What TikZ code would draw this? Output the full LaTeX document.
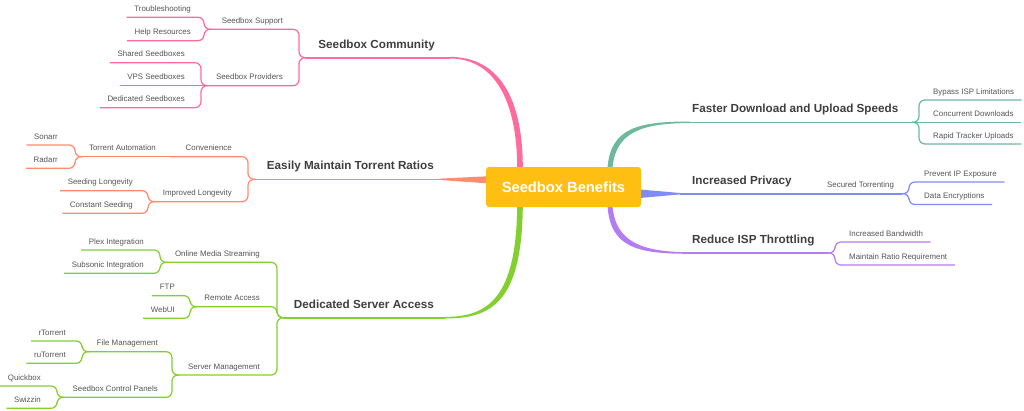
\documentclass[tikz,border=0pt]{standalone}
\usepackage{fontspec}
\setmainfont{Liberation Sans}
\definecolor{hubcol}{HTML}{FFBF12}
\definecolor{pk}{HTML}{FF6B9B}
\definecolor{sa}{HTML}{FF8C72}
\definecolor{gr}{HTML}{82D02E}
\definecolor{te}{HTML}{6CB99C}
\definecolor{bl}{HTML}{7E8CF4}
\definecolor{pu}{HTML}{B47CF4}
\definecolor{leafgray}{HTML}{555555}
\definecolor{topicgray}{HTML}{3F3F3F}

\begin{document}
\begin{tikzpicture}[x=1pt,y=-1pt,
    every node/.style={inner sep=0pt},
    hub/.style={fill=hubcol,rounded corners=3pt,minimum width=155pt,minimum height=40pt,
      text=white,font=\fontsize{14.7}{17}\selectfont\bfseries},
    topic/.style={font=\fontsize{11.7}{14}\selectfont\bfseries,text=topicgray,text depth=9.3pt},
    sub/.style={font=\fontsize{7.9}{9.5}\selectfont,text=leafgray,text depth=5.7pt},
    branch/.style={line width=1.2pt,rounded corners=6pt},
    trunk/.style={line width=1.6pt}]

  \fill[white] (0,0) rectangle (1024,410);
  \useasboundingbox (0,0) rectangle (1024,410);

  % Seedbox Community
  \node[topic,anchor=south east] (comm) at (435,57.7) {Seedbox Community};
  \node[sub,anchor=south east] (sup) at (283,29.3) {Seedbox Support};
  \node[sub,anchor=south east] (prov) at (283,85.7) {Seedbox Providers};
  \node[sub,anchor=south east] (tshoot) at (191,17.3) {Troubleshooting};
  \node[sub,anchor=south east] (helpres) at (191,40.7) {Help Resources};
  \node[sub,anchor=south east] (shared) at (185,62.7) {Shared Seedboxes};
  \node[sub,anchor=south east] (vps) at (185,85.7) {VPS Seedboxes};
  \node[sub,anchor=south east] (dedic) at (185,107.7) {Dedicated Seedboxes};
  \coordinate (comm-t) at (450,57.7);
  \coordinate (comm-f) at (306,57.7);
  \coordinate (sup-f) at (211,29.3);
  \coordinate (prov-f) at (208,85.7);
  \fill[pk] (450,56.9) .. controls (499,56.9) and (522.8,98) .. (522.8,168)
    -- (517.2,168) .. controls (517.2,102) and (495,58.5) .. (450,58.5) -- cycle;
  \draw[trunk,pk] (comm-t) -- (comm-f);
  \foreach \c in {sup-f,prov-f}
    \draw[branch,pk] (comm-f) -- ++(-7,0) |- (\c);
  \foreach \c in {tshoot,helpres}
    \draw[branch,pk] (sup-f) -- ++(-7,0) |- ([xshift=-7.5pt]\c.south west);
  \foreach \c in {shared,dedic}
    \draw[branch,pk] (prov-f) -- ++(-7,0) |- ([xshift=-7.5pt]\c.south west);
  \draw[branch,pk] (prov-f) -- ([xshift=-7.5pt]vps.south west);

  % Easily Maintain Torrent Ratios
  \node[topic,anchor=south east] (easy) at (434,179.3) {Easily Maintain Torrent Ratios};
  \node[sub,anchor=south east] (conv) at (232,156.7) {Convenience};
  \node[sub,anchor=south east] (impr) at (232,201.7) {Improved Longevity};
  \node[sub,anchor=south east] (tauto) at (156,156.7) {Torrent Automation};
  \node[sub,anchor=south east] (sonarr) at (58,145) {Sonarr};
  \node[sub,anchor=south east] (radarr) at (58,168.3) {Radarr};
  \node[sub,anchor=south east] (seedlong) at (133,190.7) {Seeding Longevity};
  \node[sub,anchor=south east] (constseed) at (133,213.3) {Constant Seeding};
  \coordinate (easy-t) at (440,179.3);
  \coordinate (easy-f) at (255,179.3);
  \coordinate (conv-f) at (170,156.7);
  \coordinate (tauto-f) at (82,156.7);
  \coordinate (impr-f) at (155,201.7);
  \fill[sa] (487,176.3) -- (440,178.6) -- (440,180) -- (487,183.3) -- cycle;
  \draw[trunk,sa] (easy-t) -- (easy-f);
  \foreach \c in {conv-f,impr-f}
    \draw[branch,sa] (easy-f) -- ++(-7,0) |- (\c);
  \draw[branch,sa] (conv-f) -- (tauto-f);
  \foreach \c in {sonarr,radarr}
    \draw[branch,sa] (tauto-f) -- ++(-7,0) |- ([xshift=-7.5pt]\c.south west);
  \foreach \c in {seedlong,constseed}
    \draw[branch,sa] (impr-f) -- ++(-7,0) |- ([xshift=-7.5pt]\c.south west);

  % Dedicated Server Access
  \node[topic,anchor=south east] (ded) at (434,317.7) {Dedicated Server Access};
  \node[sub,anchor=south east] (online) at (260,262.3) {Online Media Streaming};
  \node[sub,anchor=south east] (remote) at (260,306.7) {Remote Access};
  \node[sub,anchor=south east] (server) at (260,375) {Server Management};
  \node[sub,anchor=south east] (plex) at (144,250) {Plex Integration};
  \node[sub,anchor=south east] (subsonic) at (144,273.3) {Subsonic Integration};
  \node[sub,anchor=south east] (ftp) at (175,295.7) {FTP};
  \node[sub,anchor=south east] (webui) at (175,318.3) {WebUI};
  \node[sub,anchor=south east] (filem) at (158,351.7) {File Management};
  \node[sub,anchor=south east] (control) at (158,397.3) {Seedbox Control Panels};
  \node[sub,anchor=south east] (rtorrent) at (66,341) {rTorrent};
  \node[sub,anchor=south east] (rutorrent) at (66,363.3) {ruTorrent};
  \node[sub,anchor=south east] (quickbox) at (41,386) {Quickbox};
  \node[sub,anchor=south east] (swizzin) at (41,408.3) {Swizzin};
  \coordinate (ded-t) at (445,317.7);
  \coordinate (ded-f) at (284,317.7);
  \coordinate (online-f) at (167,262.3);
  \coordinate (remote-f) at (197,306.7);
  \coordinate (server-f) at (179,375);
  \coordinate (filem-f) at (89,351.7);
  \coordinate (control-f) at (64,397.3);
  \fill[gr] (517.2,206) -- (522.8,206) .. controls (521.8,302) and (492,318.5) .. (445,318.5)
    -- (445,316.9) .. controls (488,316.9) and (516.2,298) .. (517.2,206) -- cycle;
  \draw[trunk,gr] (ded-t) -- (ded-f);
  \foreach \c in {online-f,remote-f,server-f}
    \draw[branch,gr] (ded-f) -- ++(-7,0) |- (\c);
  \foreach \c in {plex,subsonic}
    \draw[branch,gr] (online-f) -- ++(-7,0) |- ([xshift=-7.5pt]\c.south west);
  \foreach \c in {ftp,webui}
    \draw[branch,gr] (remote-f) -- ++(-7,0) |- ([xshift=-7.5pt]\c.south west);
  \foreach \c in {filem-f,control-f}
    \draw[branch,gr] (server-f) -- ++(-7,0) |- (\c);
  \foreach \c in {rtorrent,rutorrent}
    \draw[branch,gr] (filem-f) -- ++(-7,0) |- ([xshift=-7.5pt]\c.south west);
  \foreach \c in {quickbox,swizzin}
    \draw[branch,gr] (control-f) -- ++(-7,0) |- ([xshift=-7.5pt]\c.south west);

  % Faster Download and Upload Speeds
  \node[topic,anchor=south west] (fast) at (692,122.3) {Faster Download and Upload Speeds};
  \node[sub,anchor=south west] (bypass) at (933,100) {Bypass ISP Limitations};
  \node[sub,anchor=south west] (concur) at (933,122.3) {Concurrent Downloads};
  \node[sub,anchor=south west] (rapid) at (933,144) {Rapid Tracker Uploads};
  \coordinate (fast-t) at (690,122.3);
  \coordinate (fast-f) at (912,122.3);
  \fill[te] (607.5,168) .. controls (610.5,128) and (638,121.5) .. (690,121.5)
    -- (690,123.1) .. controls (642,123.1) and (615.5,132) .. (612.5,168) -- cycle;
  \draw[trunk,te] (fast-t) -- (fast-f);
  \foreach \c in {bypass,rapid}
    \draw[branch,te] (fast-f) -- ++(7,0) |- ([xshift=7.5pt]\c.south east);
  \draw[branch,te] (fast-f) -- ([xshift=7.5pt]concur.south east);

  % Increased Privacy
  \node[topic,anchor=south west] (priv) at (692,193.7) {Increased Privacy};
  \node[sub,anchor=south west] (sect) at (827,193.7) {Secured Torrenting};
  \node[sub,anchor=south west] (prevent) at (924,182) {Prevent IP Exposure};
  \node[sub,anchor=south west] (dataenc) at (924,204.5) {Data Encryptions};
  \coordinate (priv-t) at (680,193.7);
  \coordinate (sect-f) at (902,193.7);
  \fill[bl] (640,189.5) -- (680,193) -- (680,194.4) -- (640,198) -- cycle;
  \draw[trunk,bl] (priv-t) -- (sect-f);
  \foreach \c in {prevent,dataenc}
    \draw[branch,bl] (sect-f) -- ++(7,0) |- ([xshift=7.5pt]\c.south east);

  % Reduce ISP Throttling
  \node[topic,anchor=south west] (reduce) at (692,253) {Reduce ISP Throttling};
  \node[sub,anchor=south west] (bandw) at (849,242) {Increased Bandwidth};
  \node[sub,anchor=south west] (ratio) at (849,265) {Maintain Ratio Requirement};
  \coordinate (reduce-t) at (690,253);
  \coordinate (reduce-f) at (828,253);
  \fill[pu] (607.5,206) .. controls (610.5,248) and (638,253.8) .. (690,253.8)
    -- (690,252.2) .. controls (642,252.2) and (615.5,242) .. (612.5,206) -- cycle;
  \draw[trunk,pu] (reduce-t) -- (reduce-f);
  \foreach \c in {bandw,ratio}
    \draw[branch,pu] (reduce-f) -- ++(7,0) |- ([xshift=7.5pt]\c.south east);

  % central topic on top of the trunks
  \node[hub] (hub) at (563.5,187) {Seedbox Benefits};

\end{tikzpicture}
\end{document}
